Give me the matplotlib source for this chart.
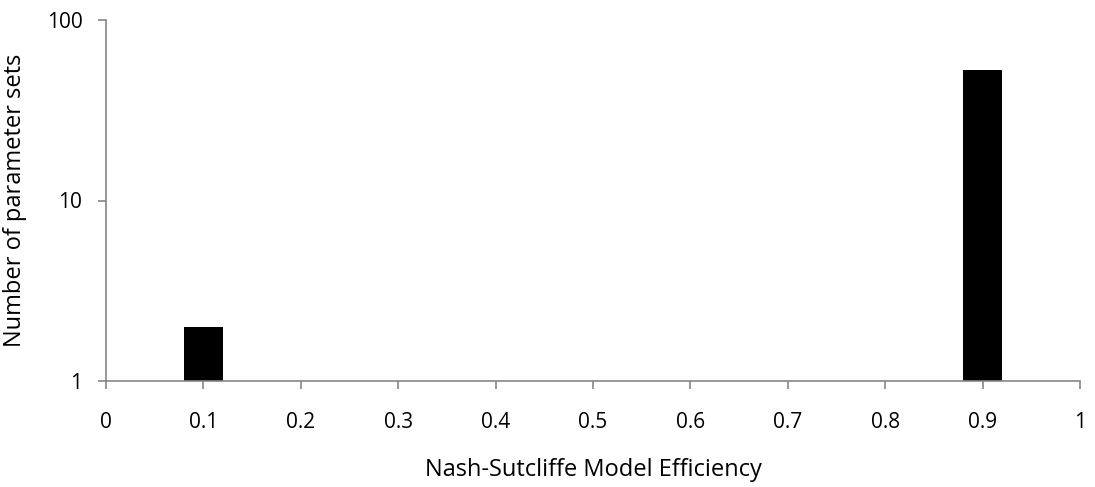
import matplotlib
matplotlib.use("Agg")
import matplotlib.pyplot as plt
from matplotlib.ticker import FixedLocator, FixedFormatter, NullLocator

nse_bins = [0.1, 0.9]
counts = [2, 53]
x_ticks = [0, 0.1, 0.2, 0.3, 0.4, 0.5, 0.6, 0.7, 0.8, 0.9, 1]
x_tick_labels = ["0", "0.1", "0.2", "0.3", "0.4", "0.5", "0.6", "0.7", "0.8", "0.9", "1"]
y_ticks = [1, 10, 100]
y_tick_labels = ["1", "10", "100"]

plt.rcParams['font.family'] = ['Open Sans', 'DejaVu Sans']
fig = plt.figure(figsize=(10.95, 4.87), dpi=100)
ax = fig.add_axes([106/1095, 1-381/487, (1080-106)/1095, (381-20)/487])

ax.bar(nse_bins, counts, width=0.04, color='black')
ax.set_yscale('log')
ax.set_ylim(1, 100)
ax.set_xlim(0, 1)
ax.xaxis.set_major_locator(FixedLocator(x_ticks))
ax.xaxis.set_major_formatter(FixedFormatter(x_tick_labels))
ax.yaxis.set_major_locator(FixedLocator(y_ticks))
ax.yaxis.set_major_formatter(FixedFormatter(y_tick_labels))
ax.yaxis.set_minor_locator(NullLocator())

gray = '#868686'
for s in ['top', 'right']:
    ax.spines[s].set_visible(False)
for s in ['left', 'bottom']:
    ax.spines[s].set_color(gray)
    ax.spines[s].set_linewidth(1.2)
ax.tick_params(axis='both', direction='out', length=6, width=1.2, color=gray,
               labelsize=15, labelcolor='black')
ax.tick_params(axis='x', pad=16)
ax.tick_params(axis='y', pad=11)

ax.set_xlabel('Nash-Sutcliffe Model Efficiency', fontsize=17, labelpad=18)
ax.set_ylabel('Number of parameter sets', fontsize=17, labelpad=14)

fig.savefig('out.png', dpi=100)
